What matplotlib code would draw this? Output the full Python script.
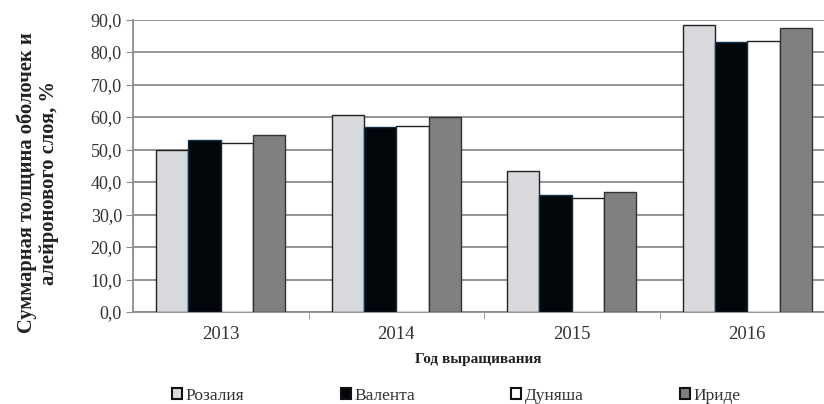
import matplotlib
matplotlib.use("Agg")
import matplotlib.pyplot as plt
from matplotlib.ticker import FuncFormatter, FixedLocator
from matplotlib.patches import Patch
import numpy as np

years = ["2013", "2014", "2015", "2016"]
series_names = ["Розалия", "Валента", "Дуняша", "Ириде"]
rozaliya = [50.0, 60.6, 43.5, 88.3]
valenta = [52.8, 56.8, 35.9, 83.1]
dunyasha = [51.9, 57.1, 35.0, 83.4]
iride = [54.4, 59.9, 37.0, 87.5]
values = [rozaliya, valenta, dunyasha, iride]

face_colors = ["#d7d9dc", "#03070b", "#ffffff", "#808080"]
edge_colors = ["#222222", "#10304a", "#222222", "#333333"]

FAM = ["Liberation Serif", "DejaVu Serif"]
plt.rcParams["font.family"] = FAM

fig = plt.figure(figsize=(8.24, 4.04), dpi=100)
W, H = 824, 404
ax = fig.add_axes([133 / W, 92 / H, (824 - 133) / W, 292.5 / H])

x = np.arange(len(years))
bw = 0.184
for j, (vals, fc, ec) in enumerate(zip(values, face_colors, edge_colors)):
    ax.bar(x + (j - 1.5) * bw, vals, width=bw, color=fc, edgecolor=ec,
           linewidth=1.0, zorder=3)

ax.set_xlim(-0.5, -0.5 + (824 - 133) / 175.5)
ax.set_ylim(0, 90)
ax.yaxis.set_major_locator(FixedLocator(np.arange(0, 91, 10)))
ax.yaxis.set_major_formatter(FuncFormatter(lambda v, p: f"{v:.1f}".replace(".", ",")))
ax.grid(axis="y", color="#8c8c8c", linewidth=1.3, zorder=0)
ax.set_axisbelow(True)

ax.set_xticks(x)
ax.set_xticklabels(years, fontsize=13.5, color="#333333")
ax.set_xticks([0.5, 1.5, 2.5], minor=True)
ax.tick_params(axis="x", which="major", length=0, pad=10)
ax.tick_params(axis="x", which="minor", length=5, color="#8c8c8c", direction="out")
ax.tick_params(axis="y", length=5, color="#8c8c8c", labelsize=13, labelcolor="#333333", pad=3)

for s in ["top", "right"]:
    ax.spines[s].set_visible(False)
for s in ["left", "bottom"]:
    ax.spines[s].set_color("#8c8c8c")
    ax.spines[s].set_linewidth(1.3)

ax.set_xlabel("Год выращивания", fontsize=11, fontweight="bold", labelpad=7, color="#222222")
fig.text(38 / W, 1 - 183 / H, "Суммарная толщина оболочек и\nалейронового слоя, %",
         rotation=90, ha="center", va="center", fontsize=14.8, fontweight="bold",
         linespacing=1.15, color="#222222")

leg_x = [172, 341, 511, 680]
for name, fc, ec, lx in zip(series_names, face_colors, edge_colors, leg_x):
    h = Patch(facecolor=fc, edgecolor="#111111", linewidth=1.5)
    fig.legend(handles=[h], labels=[name], loc="center left",
               bbox_to_anchor=(lx / W, 1 - 396 / H), frameon=False,
               handlelength=0.6, handleheight=0.6, handletextpad=0.2,
               prop={"family": FAM, "size": 12.5}, labelcolor="#333333",
               borderpad=0, borderaxespad=0)

fig.savefig("out.png", dpi=100, facecolor="white")
